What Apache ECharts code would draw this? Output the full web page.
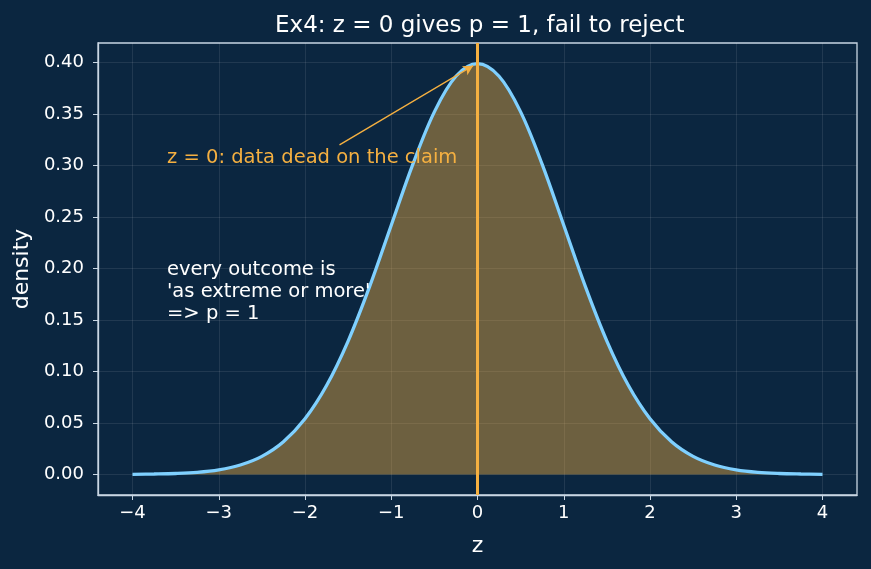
<!DOCTYPE html>
<html>
<head>
<meta charset="utf-8">
<title>Ex4</title>
<script src="https://cdn.jsdelivr.net/npm/echarts@6/dist/echarts.min.js"></script>
<style>
  html, body { margin: 0; height: 100%; background: #0b2640; }
  #main { width: 871px; height: 569px; }
</style>
</head>
<body>
<div id="main"></div>
<script>
// z values and density
var zVals = [-4, -3.75, -3.5, -3.25, -3, -2.75, -2.5, -2.25, -2, -1.75, -1.5, -1.25, -1, -0.75, -0.5, -0.25,
  0, 0.25, 0.5, 0.75, 1, 1.25, 1.5, 1.75, 2, 2.25, 2.5, 2.75, 3, 3.25, 3.5, 3.75, 4];
var density = [0.0001, 0.0004, 0.0009, 0.0020, 0.0044, 0.0091, 0.0175, 0.0317, 0.0540, 0.0863, 0.1295, 0.1826,
  0.2420, 0.3011, 0.3521, 0.3867, 0.3989, 0.3867, 0.3521, 0.3011, 0.2420, 0.1826, 0.1295, 0.0863, 0.0540,
  0.0317, 0.0175, 0.0091, 0.0044, 0.0020, 0.0009, 0.0004, 0.0001];
var xTicks = [-4, -3, -2, -1, 0, 1, 2, 3, 4];
var yTicks = [0, 0.05, 0.10, 0.15, 0.20, 0.25, 0.30, 0.35, 0.40];
var observedZ = 0;

var font = 'DejaVu Sans';
var white = '#ffffff';
var orange = '#f5b041';
var spine = '#c9d6e3';
var gridCol = 'rgba(255,255,255,0.09)';

var curve = [];
for (var i = 0; i < zVals.length; i++) curve.push([zVals[i], density[i]]);

var chart = echarts.init(document.getElementById('main'));
var option = {
  backgroundColor: '#0b2640',
  animation: false,
  title: {
    text: 'Ex4: z = 0 gives p = 1, fail to reject',
    left: 270, top: 10,
    textStyle: { color: white, fontFamily: font, fontSize: 23, fontWeight: 'normal' }
  },
  grid: { left: 98, right: 14, top: 43, bottom: 74, show: true, borderColor: spine, borderWidth: 1.3 },
  xAxis: {
    type: 'value', min: -4.4, max: 4.4,
    name: 'z', nameLocation: 'middle', nameGap: 40,
    nameTextStyle: { color: white, fontFamily: font, fontSize: 22 },
    axisLine: { show: true, onZero: false, lineStyle: { color: spine, width: 1.3 } },
    axisTick: { show: true, length: 5, customValues: xTicks, lineStyle: { color: spine } },
    axisLabel: { customValues: xTicks, color: white, fontFamily: font, fontSize: 18, margin: 9,
      formatter: function (v) { return String(v).replace('-', '\u2212'); } },
    splitLine: { show: true, lineStyle: { color: gridCol, width: 1 } }
  },
  yAxis: {
    type: 'value', min: -0.02, max: 0.419,
    name: 'density', nameLocation: 'middle', nameGap: 62, nameRotate: 90,
    nameTextStyle: { color: white, fontFamily: font, fontSize: 22 },
    axisLine: { show: true, onZero: false, lineStyle: { color: spine, width: 1.3 } },
    axisTick: { show: true, length: 5, customValues: yTicks, lineStyle: { color: spine } },
    axisLabel: { customValues: yTicks, color: white, fontFamily: font, fontSize: 18, margin: 14,
      formatter: function (v) { return v.toFixed(2); } },
    splitLine: { show: true, lineStyle: { color: gridCol, width: 1 } }
  },
  series: [{
    type: 'line',
    data: curve,
    smooth: 0.35,
    showSymbol: false,
    lineStyle: { color: '#7fd0ff', width: 3.3 },
    areaStyle: { color: orange, opacity: 0.42, origin: 0 },
    z: 3,
    markLine: {
      silent: true,
      symbol: ['none', 'none'],
      label: { show: false },
      lineStyle: { color: orange, width: 3, type: 'solid' },
      data: [{ xAxis: observedZ }]
    }
  }, {
    type: 'line',
    data: [],
    markLine: {
      silent: true,
      symbol: ['none', 'arrow'],
      symbolSize: [8, 10],
      label: { show: false },
      lineStyle: { color: orange, width: 1.3, type: 'solid' },
      data: [[{ coord: [-1.6, 0.32] }, { coord: [-0.05, 0.397] }]]
    },
    z: 5
  }]
};
chart.setOption(option);

var p1 = chart.convertToPixel({ gridIndex: 0 }, [-3.6, 0.30]);
var p2 = chart.convertToPixel({ gridIndex: 0 }, [-3.6, 0.15]);
chart.setOption({
  graphic: [{
    type: 'text', left: p1[0], top: p1[1] - 18, z: 10,
    style: { text: 'z = 0: data dead on the claim', fill: orange, font: '19.5px "DejaVu Sans"' }
  }, {
    type: 'text', left: p2[0], top: p2[1] - 61, z: 10,
    style: { text: "every outcome is\n'as extreme or more'\n=> p = 1", fill: white,
      font: '19.5px "DejaVu Sans"', lineHeight: 22 }
  }]
});
</script>
</body>
</html>
